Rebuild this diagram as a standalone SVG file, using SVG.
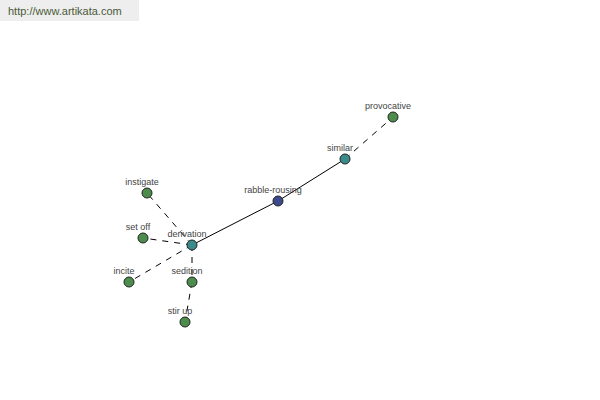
<svg xmlns="http://www.w3.org/2000/svg" width="600" height="400" viewBox="0 0 600 400">
<style>
.n{stroke:#222;stroke-width:1}
.g{fill:#4c8c4c}
.t{fill:#3a8c8c}
.b{fill:#3c4a8c}
.l{font-family:"Liberation Sans",Arial,sans-serif;font-size:9px;fill:#444;text-anchor:middle}
.e{stroke:#000;stroke-width:1;fill:none}
.d{stroke-dasharray:6,6}
</style>
<rect x="0" y="0" width="139" height="21" fill="#eeeeee"/>
<text x="8" y="15" font-family="Liberation Sans,Arial,sans-serif" font-size="11" fill="#4a5a38">http://www.artikata.com</text>
<g id="connectors">
<line class="e" x1="192" y1="245" x2="278" y2="201"/>
<line class="e" x1="278" y1="201" x2="345" y2="159"/>
<line class="e d" x1="345" y1="159" x2="393" y2="117"/>
<line class="e d" x1="192" y1="245" x2="147" y2="193"/>
<line class="e d" x1="192" y1="245" x2="143" y2="238"/>
<line class="e d" x1="192" y1="245" x2="129" y2="282"/>
<line class="e d" x1="192" y1="245" x2="192" y2="282"/>
<line class="e d" x1="192" y1="282" x2="185" y2="322"/>
</g>
<g id="n-derivation"><circle class="n t" cx="192" cy="245" r="5"/><text class="l" x="187" y="237">derivation</text></g>
<g id="n-rabble-rousing"><circle class="n b" cx="278" cy="201" r="5"/><text class="l" x="273" y="193">rabble-rousing</text></g>
<g id="n-similar"><circle class="n t" cx="345" cy="159" r="5"/><text class="l" x="340" y="151">similar</text></g>
<g id="n-provocative"><circle class="n g" cx="393" cy="117" r="5"/><text class="l" x="388" y="109">provocative</text></g>
<g id="n-instigate"><circle class="n g" cx="147" cy="193" r="5"/><text class="l" x="142" y="185">instigate</text></g>
<g id="n-set-off"><circle class="n g" cx="143" cy="238" r="5"/><text class="l" x="138" y="230">set off</text></g>
<g id="n-incite"><circle class="n g" cx="129" cy="282" r="5"/><text class="l" x="124" y="274">incite</text></g>
<g id="n-sedition"><circle class="n g" cx="192" cy="282" r="5"/><text class="l" x="187" y="274">sedition</text></g>
<g id="n-stir-up"><circle class="n g" cx="185" cy="322" r="5"/><text class="l" x="180" y="314">stir up</text></g>
</svg>
